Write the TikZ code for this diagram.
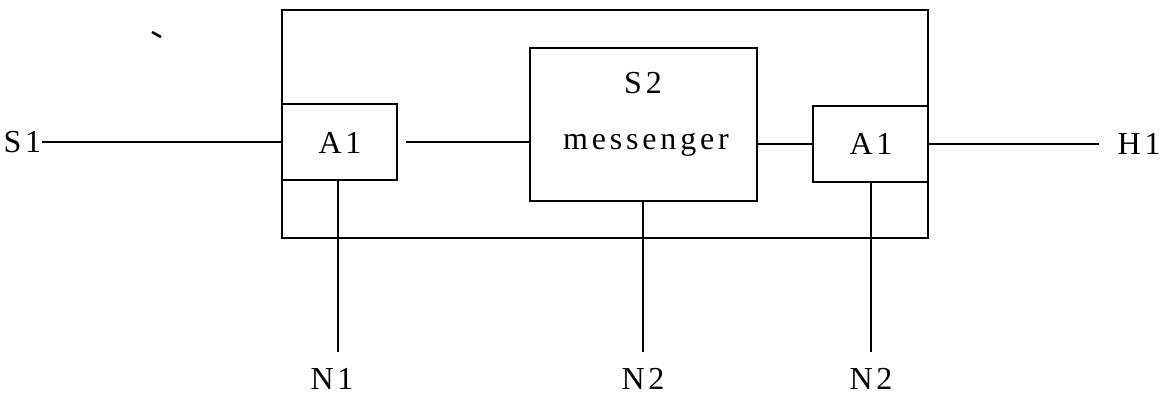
\documentclass[tikz,border=0pt]{standalone}
\usepackage{fontspec}
\setmainfont{Liberation Serif}[LetterSpace=12]
\begin{document}
\begin{tikzpicture}[x=1pt,y=-1pt,
  line width=1.2pt,
  boxx/.style={draw,line width=1.2pt,inner sep=0pt},
  lbl/.style={inner sep=0pt,font=\fontsize{32}{38}\selectfont}]
\useasboundingbox (0,0) rectangle (1171,395);
\node[boxx,minimum width=646pt,minimum height=228pt] (outer) at (605,124) {};
\node[boxx,minimum width=115pt,minimum height=76pt] (a1l) at (339.5,142) {};
\node[boxx,minimum width=227pt,minimum height=153pt] (msg) at (643.5,124.5) {};
\node[boxx,minimum width=115pt,minimum height=76pt] (a1r) at (870.5,144) {};
\node[lbl] (a1lt) at (340,143) {A1};
\node[lbl] (a1rt) at (871,144) {A1};
\node[lbl] (s2) at (643,83) {S2};
\node[lbl] (mt) at (646,145) {messenger};
\node[lbl,anchor=west] (s1) at (3,142) {S1};
\node[lbl,anchor=west] (h1) at (1117,144) {H1};
\node[lbl] (n1) at (332,379) {N1};
\node[lbl] (n2a) at (643,379) {N2};
\node[lbl] (n2b) at (871,379) {N2};
\draw (s1.east) -- (a1l.west);
\draw[shorten <=8pt] (a1l.east) -- (a1l.east -| msg.west);
\draw (msg.east |- a1r.west) -- (a1r.west);
\draw[shorten >=18pt] (a1r.east) -- (h1.west);
\coordinate (e1) at (338,352);
\coordinate (e2) at (643,352);
\coordinate (e3) at (871,352);
\draw (a1l.south -| e1) -- (e1);
\draw (msg.south -| e2) -- (e2);
\draw (a1r.south -| e3) -- (e3);
\coordinate (t1) at (152,32);
\coordinate (t2) at (161,37);
\draw[line width=2.5pt] (t1) -- (t2);
\end{tikzpicture}
\end{document}
